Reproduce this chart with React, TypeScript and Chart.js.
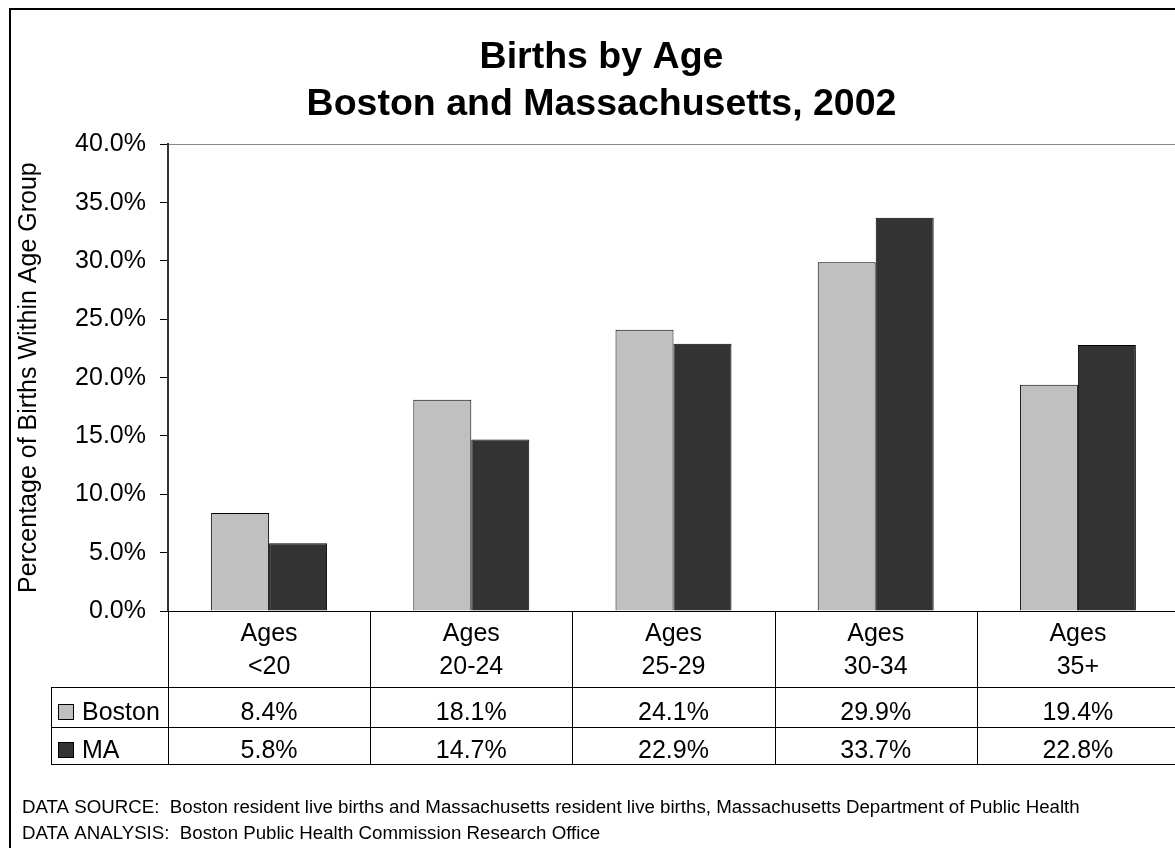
import React, { useEffect, useRef } from 'react';
import { Chart, registerables } from 'chart.js';

Chart.register(...registerables);

const CATEGORIES = [
  ['Ages', '<20'],
  ['Ages', '20-24'],
  ['Ages', '25-29'],
  ['Ages', '30-34'],
  ['Ages', '35+'],
];
const BOSTON = [8.4, 18.1, 24.1, 29.9, 19.4];
const MA = [5.8, 14.7, 22.9, 33.7, 22.8];
const SERIES_NAMES = ['Boston', 'MA'];
const SERIES_COLORS = ['#C0C0C0', '#333333'];
const Y_MIN = 0;
const Y_MAX = 40;
const Y_STEP = 5;
const TITLE = ['Births by Age', 'Boston and Massachusetts, 2002'];
const Y_TITLE = 'Percentage of Births Within Age Group';
const FOOTER = [
  'DATA SOURCE:  Boston resident live births and Massachusetts resident live births, Massachusetts Department of Public Health',
  'DATA ANALYSIS:  Boston Public Health Commission Research Office',
];

const FONT = '"Liberation Sans", Arial, Helvetica, sans-serif';
const W = 1187;
const H = 850;

const fmt = (v: number) => v.toFixed(1) + '%';

const tablePlugin = {
  id: 'dataTable',
  beforeDraw(chart: any) {
    const { ctx, width, height } = chart;
    ctx.save();
    ctx.fillStyle = '#ffffff';
    ctx.fillRect(0, 0, width, height);
    ctx.restore();
  },
  afterDraw(chart: any) {
    const { ctx, chartArea, width, height } = chart;
    const xs = chart.scales.x;
    const labels = chart.data.labels as string[][];
    const n = labels.length;
    const catW = xs.getPixelForValue(1) - xs.getPixelForValue(0);
    const edges: number[] = [];
    for (let i = 0; i <= n; i++) edges.push(xs.getPixelForValue(0) - catW / 2 + i * catW);
    const b = chartArea.bottom;
    const rowHeader = b + 76;
    const row1 = b + 116;
    const row2 = b + 153;
    const tableLeft = 43;
    const right = edges[n];

    ctx.save();
    ctx.strokeStyle = '#000';
    ctx.lineWidth = 1;
    const hl = (y: number, x0: number, x1: number) => {
      const yy = Math.round(y) + 0.5;
      ctx.beginPath();
      ctx.moveTo(x0, yy);
      ctx.lineTo(x1, yy);
      ctx.stroke();
    };
    const vl = (x: number, y0: number, y1: number) => {
      const xx = Math.round(x) + 0.5;
      ctx.beginPath();
      ctx.moveTo(xx, y0);
      ctx.lineTo(xx, y1);
      ctx.stroke();
    };
    hl(b, chartArea.left, right);
    hl(rowHeader, tableLeft, right);
    hl(row1, tableLeft, right);
    hl(row2, tableLeft, right);
    vl(tableLeft, Math.round(rowHeader), Math.round(row2) + 1);
    edges.forEach((e) => vl(e, Math.round(b), Math.round(row2) + 1));

    ctx.fillStyle = '#000';
    ctx.font = `25px ${FONT}`;
    ctx.textBaseline = 'alphabetic';
    ctx.textAlign = 'center';
    labels.forEach((lab, i) => {
      const cx = xs.getPixelForValue(i);
      lab.forEach((line, j) => ctx.fillText(line, cx, b + 30 + j * 32.6));
    });

    chart.data.datasets.forEach((ds: any, di: number) => {
      const baseY = di === 0 ? b + 109 : b + 147;
      ctx.textAlign = 'center';
      ctx.fillStyle = '#000';
      ds.data.forEach((v: number, i: number) => {
        ctx.fillText(fmt(v), xs.getPixelForValue(i), baseY);
      });
      ctx.fillStyle = ds.backgroundColor;
      ctx.fillRect(50, baseY - 16, 16, 16);
      ctx.strokeStyle = '#000';
      ctx.strokeRect(50.5, baseY - 15.5, 15, 15);
      ctx.fillStyle = '#000';
      ctx.textAlign = 'left';
      ctx.fillText(ds.label, 74, baseY);
    });

    ctx.font = `18.7px ${FONT}`;
    ctx.textAlign = 'left';
    ctx.fillStyle = '#000';
    ctx.fillText(FOOTER[0], 14, 805);
    ctx.fillText(FOOTER[1], 14, 830.5);

    ctx.lineWidth = 2;
    ctx.strokeStyle = '#000';
    ctx.strokeRect(2, 1, width + 10, height + 10);
    ctx.restore();
  },
};

export default function App() {
  const ref = useRef<HTMLCanvasElement>(null);
  useEffect(() => {
    Chart.defaults.font.family = FONT;
    Chart.defaults.color = '#000';
    const chart = new Chart(ref.current as HTMLCanvasElement, {
      type: 'bar',
      data: {
        labels: CATEGORIES as any,
        datasets: [
          {
            label: SERIES_NAMES[0],
            data: BOSTON,
            backgroundColor: SERIES_COLORS[0],
            borderColor: '#000',
            borderWidth: 1,
            barPercentage: 1,
            categoryPercentage: 0.5735,
          },
          {
            label: SERIES_NAMES[1],
            data: MA,
            backgroundColor: SERIES_COLORS[1],
            borderColor: '#000',
            borderWidth: 1,
            barPercentage: 1,
            categoryPercentage: 0.5735,
          },
        ],
      },
      options: {
        responsive: false,
        animation: false,
        devicePixelRatio: 1,
        layout: { padding: { top: 0, left: 0, right: 0, bottom: 247 } },
        plugins: {
          legend: { display: false },
          tooltip: { enabled: false },
          title: {
            display: true,
            text: TITLE,
            color: '#000',
            font: { family: FONT, size: 37.5, weight: 'bold', lineHeight: 47 / 37.5 },
            padding: { top: 26.5, bottom: 15.8 },
          },
        },
        scales: {
          x: { display: false },
          y: {
            min: Y_MIN,
            max: Y_MAX,
            ticks: {
              stepSize: Y_STEP,
              callback: (v: any) => fmt(Number(v)),
              color: '#000',
              font: { size: 25 },
              padding: 14,
            },
            grid: {
              drawOnChartArea: true,
              color: (c: any) => (c.tick && c.tick.value === Y_MAX ? '#888888' : 'rgba(0,0,0,0)'),
              tickColor: '#000',
              tickLength: 8,
              lineWidth: 1,
            },
            border: { display: true, color: '#333', width: 2 },
            title: {
              display: true,
              text: Y_TITLE,
              color: '#000',
              font: { size: 25 },
              padding: { top: 6, bottom: 0 },
            },
            afterFit: (s: any) => {
              s.width = 160;
            },
          },
          y2: {
            type: 'linear',
            position: 'right',
            display: true,
            grid: { display: false },
            border: { display: false },
            ticks: { display: false },
            afterFit: (s: any) => {
              s.width = 16;
            },
          },
        },
      } as any,
      plugins: [tablePlugin],
    });
    return () => chart.destroy();
  }, []);
  return (
    <div style={{ position: 'absolute', left: 8, top: 8, width: 1167, height: 840, overflow: 'hidden' }}>
      <canvas ref={ref} width={W} height={H} style={{ display: 'block', width: W, height: H }} />
    </div>
  );
}
